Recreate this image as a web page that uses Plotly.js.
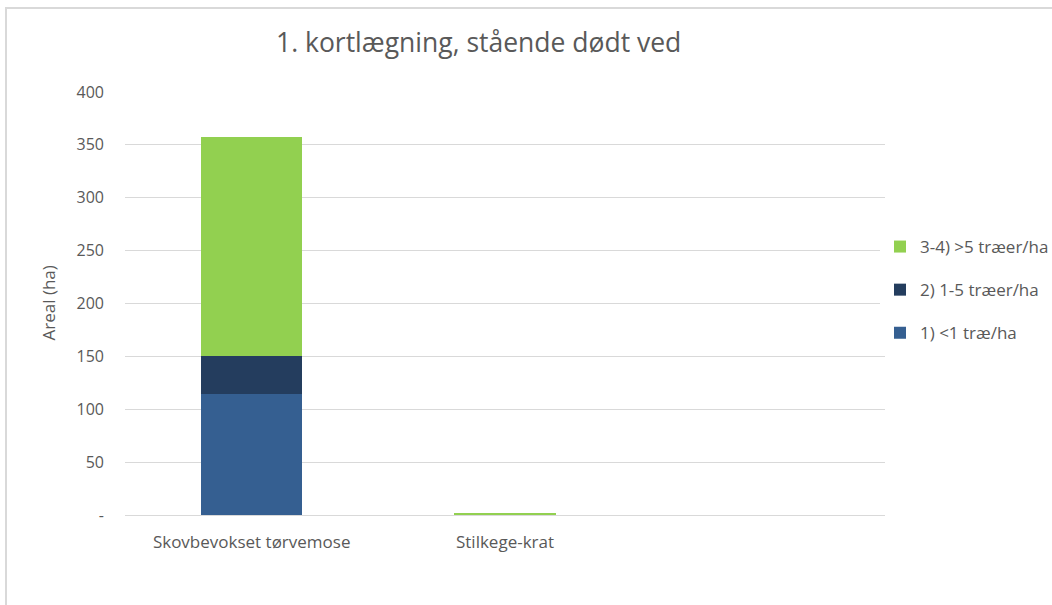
<!DOCTYPE html>
<html>
<head>
<meta charset="utf-8">
<script src="https://cdn.plot.ly/plotly-3.0.1.min.js"></script>
<style>
html,body{margin:0;padding:0;background:#fff;}
#frame{position:absolute;left:5px;top:7px;width:1060px;height:620px;border-top:2px solid #d9d9d9;border-left:2px solid #d9d9d9;pointer-events:none;z-index:5;}
#chart{width:1052px;height:605px;}
</style>
</head>
<body>
<div id="frame"></div>
<div id="chart"></div>
<script>
const categories = ['Skovbevokset tørvemose', 'Stilkege-krat', ' '];
const seriesNames = ['1) <1 træ/ha', '2) 1-5 træer/ha', '3-4) >5 træer/ha'];
const lt1 = [114, 0, 0];
const from1to5 = [36, 0, 0];
const over5 = [207, 2, 0];
const yTickVals = [0, 50, 100, 150, 200, 250, 300, 350, 400];
const yTickText = ['-', '50', '100', '150', '200', '250', '300', '350', '400'];

const colors = ['#355F91', '#243D5E', '#92D050'];
const values = [lt1, from1to5, over5];
const ranks = [3, 2, 1];
const font = 'Open Sans, Noto Sans, sans-serif';

const traces = values.map((v, i) => ({
  type: 'bar',
  x: categories,
  y: v,
  name: seriesNames[i],
  marker: {color: colors[i]},
  width: 0.4,
  legendgroup: 'g' + i,
  legendrank: ranks[i],
  hoverinfo: 'x+y+name'
}));

const layout = {
  width: 1052, height: 605,
  margin: {l: 125, r: 167, t: 92, b: 90, autoexpand: false},
  paper_bgcolor: '#ffffff', plot_bgcolor: '#ffffff',
  barmode: 'stack',
  bargap: 0.6,
  font: {family: font, color: '#595959', size: 16},
  title: {text: '1. kortlægning, stående dødt ved', x: 0.455, xanchor: 'center', y: 0.93, yanchor: 'middle',
          font: {family: font, size: 26.5, color: '#595959'}},
  xaxis: {type: 'category', showgrid: false, showline: true, linecolor: '#d9d9d9', linewidth: 1,
          ticks: '', ticklabelstandoff: 12, tickfont: {size: 17, color: '#595959'}, fixedrange: true, automargin: false},
  yaxis: {range: [0, 400], tickvals: yTickVals, ticktext: yTickText, showgrid: true, gridcolor: '#d9d9d9',
          gridwidth: 1, zeroline: false, showline: false, ticks: '', ticklabelstandoff: 20,
          tickfont: {size: 16, color: '#595959'}, automargin: false},
  annotations: [{text: 'Areal (ha)', xref: 'paper', yref: 'paper', x: (48 - 125) / 760, y: 0.5,
                 xanchor: 'center', yanchor: 'middle', textangle: -90, showarrow: false,
                 font: {size: 17, color: '#595959'}}],
  legend: {xref: 'container', x: 880 / 1052, xanchor: 'left', y: (515 - 290) / 423, yanchor: 'middle',
           traceorder: 'grouped', tracegroupgap: 18, font: {size: 17, color: '#595959'}, itemwidth: 30},
  showlegend: true
};

Plotly.newPlot('chart', traces, layout, {displayModeBar: false, staticPlot: true});
</script>
</body>
</html>
